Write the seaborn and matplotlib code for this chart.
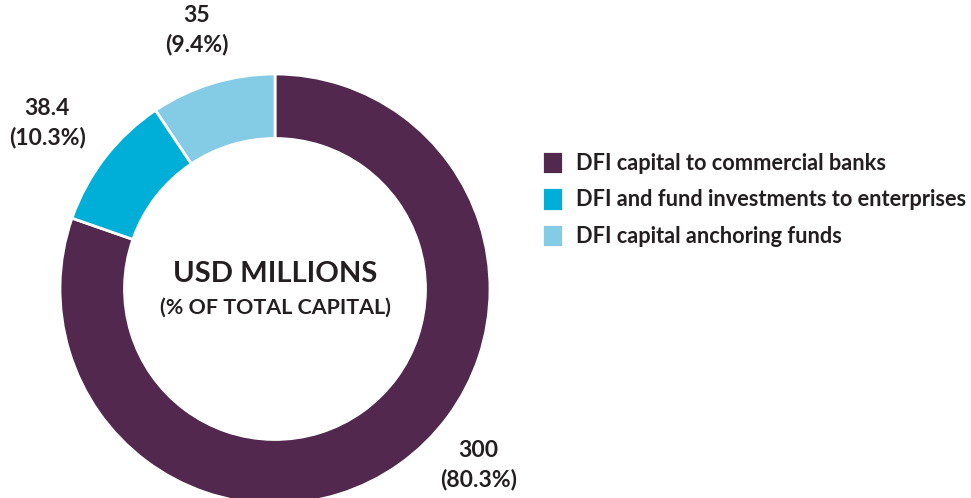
import matplotlib
matplotlib.use("Agg")
import matplotlib.pyplot as plt
import seaborn as sns

categories = ["DFI capital to commercial banks",
              "DFI and fund investments to enterprises",
              "DFI capital anchoring funds"]
values = [300, 38.4, 35]
shares = [80.3, 10.3, 9.4]
colors = ["#52284F", "#00AFD8", "#84CBE6"]

sns.set_theme(style="white")
plt.rcParams["font.family"] = ["Lato", "DejaVu Sans"]
text_color = "#231F20"

fig = plt.figure(figsize=(9.71, 4.98), dpi=100)
ax = fig.add_axes([60 / 971, -6 / 498, 430 / 971, 430 / 498])

wedges, _ = ax.pie(values, colors=colors, startangle=90, counterclock=False,
                   radius=1.0,
                   wedgeprops=dict(width=0.30, edgecolor="white", linewidth=2))
ax.set_xlim(-1, 1)
ax.set_ylim(-1, 1)
ax.set_aspect("equal")
ax.axis("off")

# value labels (positions in data units relative to donut centre)
label_pos = [(0.945, -0.82), (-1.06, 0.77), (-0.365, 1.205)]
for (x, y), v, s in zip(label_pos, values, shares):
    ax.text(x, y, f"{v:g}\n({s}%)", ha="center", va="center",
            fontsize=16.5, fontweight="bold", color=text_color,
            linespacing=1.42)

ax.text(0, 0.072, "USD MILLIONS", ha="center", va="center",
        fontsize=21, fontweight="bold", color=text_color)
ax.text(0, -0.085, "(% OF TOTAL CAPITAL)", ha="center", va="center",
        fontsize=15.4, fontweight="bold", color=text_color)

fig.legend(wedges, categories, loc="upper left",
           bbox_to_anchor=(531 / 971, 1 - 140 / 498),
           frameon=False, handlelength=0.95, handleheight=1.25,
           handletextpad=0.6, labelspacing=0.62, borderpad=0,
           prop=dict(size=15.7, weight="bold"), labelcolor=text_color)

fig.savefig("out.png", dpi=100)
